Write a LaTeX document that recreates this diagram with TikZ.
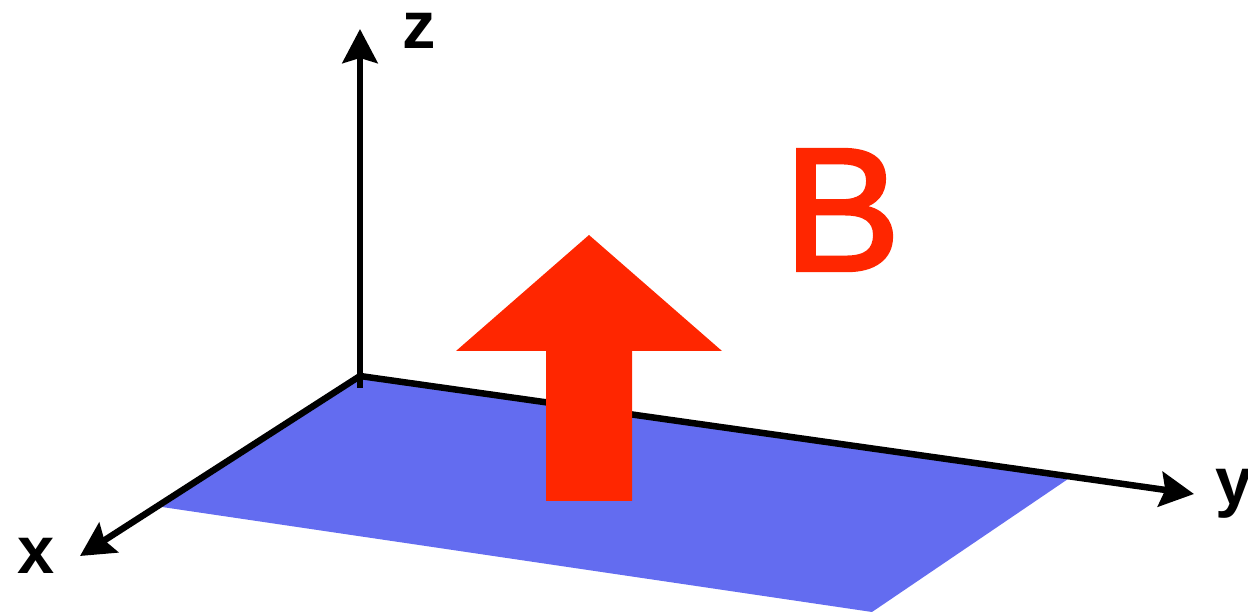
\documentclass[tikz,border=0pt]{standalone}
\usepackage{fontspec}
\setmainfont{Liberation Sans}
\newfontface\fieldfont{Liberation Sans}[FakeBold=2]
\usetikzlibrary{arrows.meta,positioning}
\definecolor{planeblue}{RGB}{99,108,240}
\definecolor{fieldred}{RGB}{255,38,0}

\begin{document}
\begin{tikzpicture}[
    x=0.02cm, y=-0.02cm,
    axistip/.tip={Stealth[length=0.68cm, width=0.7cm, inset=0.1cm]},
    axis/.style={draw=black, line width=0.13cm},
    axislabel/.style={font=\fontsize{38}{38}\selectfont\bfseries, inner sep=0pt},
    plane/.style={fill=planeblue},
    bfield/.style={fill=fieldred}
]
    \useasboundingbox (0,0) rectangle (1248,614);

    % Axis end points
    \coordinate (O) at (360,376);
    \coordinate (zfoot) at (360,388);
    \coordinate (xend) at (80,556);
    \coordinate (yend) at (1194,494);
    \coordinate (zend) at (360,29);

    % Plane
    \fill[plane] (O) -- (162,507) -- (872,612) -- (1068,479) -- cycle;

    % Axes
    \draw[axis, -axistip] (zfoot) -- (zend);
    \draw[axis, axistip-axistip] (xend) -- (O) -- (yend);

    % Field arrow
    \fill[bfield] (546,501) -- (546,351) -- (456,351) -- (589,235)
        -- (722,351) -- (632,351) -- (632,501) -- cycle;

    % Labels
    \node[axislabel, left=0.5cm of xend] (xlabel) {x};
    \node[axislabel, right=0.42cm of yend] (ylabel) {y};
    \node[axislabel, right=0.85cm of zend, yshift=-0.04cm] (zlabel) {z};
    \node[font=\fontsize{100}{100}\selectfont\fieldfont, text=fieldred, inner sep=0pt] (blabel) at (842,210) {B};
\end{tikzpicture}
\end{document}
